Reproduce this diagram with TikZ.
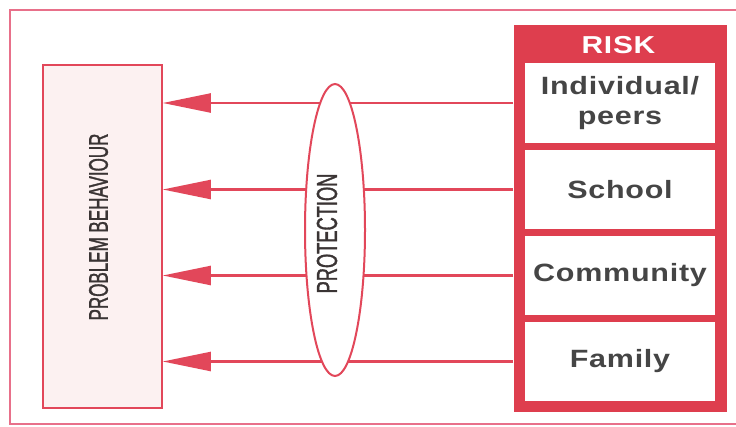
\documentclass[tikz,border=0pt]{standalone}
\usepackage{fontspec}
\setmainfont{Liberation Sans}
\newfontfamily\cellfont[FakeStretch=1.22,LetterSpace=3]{Liberation Sans Bold}
\newfontfamily\condfont[FakeStretch=0.63,FakeBold=1.2]{Liberation Sans}
\usetikzlibrary{arrows.meta,shapes.geometric}
\definecolor{riskred}{HTML}{DE3E4E}
\definecolor{linered}{HTML}{E2475A}
\definecolor{pinkfill}{HTML}{FCF1F1}
\definecolor{framecol}{HTML}{E8708A}
\definecolor{textgray}{HTML}{454545}
\definecolor{vgray}{HTML}{3A3434}
\tikzset{
  cellbox/.style={fill=white, minimum width=190pt, minimum height=79.5pt, inner sep=0pt,
    align=center, text=textgray, font=\cellfont\fontsize{25}{30}\selectfont},
  vtext/.style={rotate=90, inner sep=0pt, text=vgray},
  arrowline/.style={draw=linered, line width=2.2pt, -{Triangle[length=48pt,width=19pt]}},
}
\begin{document}
\begin{tikzpicture}[x=1pt,y=-1pt]
\useasboundingbox (0,0) rectangle (736,426);
\fill[white] (0,0) rectangle (736,426);
\draw[framecol, line width=1.3pt] (740,10) -- (10,10) -- (10,424) -- (740,424);
% problem behaviour box
\node[fill=pinkfill, draw=linered, line width=1.5pt, minimum width=119pt, minimum height=343pt, inner sep=0pt] (pb) at (102.5,236.5) {};
\node[vtext, font=\condfont\fontsize{27}{30}\selectfont] (pbt) at (98.5,227) {PROBLEM BEHAVIOUR};
% risk box
\node[fill=riskred, minimum width=213.5pt, minimum height=386.5pt, inner sep=0pt] (risk) at (620.25,218.25) {};
\node[inner sep=0pt, text=white, font=\cellfont\fontsize{24.5}{28}\selectfont] (rh) at (618.5,45.5) {RISK};
\node[cellbox] (c1) at (620,103) {Individual/\\peers};
\node[cellbox] (c2) at (620,189.5) {School};
\node[cellbox] (c3) at (620,275.5) {Community};
\node[cellbox] (c4) at (620,361.5) {Family};
% arrows
\draw[arrowline] (risk.west |- c1.center) -- (pb.east |- c1.center);
\draw[arrowline] (risk.west |- c2.center) -- (pb.east |- c2.center);
\draw[arrowline] (risk.west |- c3.center) -- (pb.east |- c3.center);
\draw[arrowline] (risk.west |- c4.center) -- (pb.east |- c4.center);
% protection ellipse
\node[ellipse, draw=linered, line width=2pt, fill=white, minimum width=60pt, minimum height=292pt, inner sep=0pt] (ell) at (335,230) {};
\node[vtext, font=\condfont\fontsize{29}{32}\selectfont] (prot) at (327,233.5) {PROTECTION};
\end{tikzpicture}
\end{document}
